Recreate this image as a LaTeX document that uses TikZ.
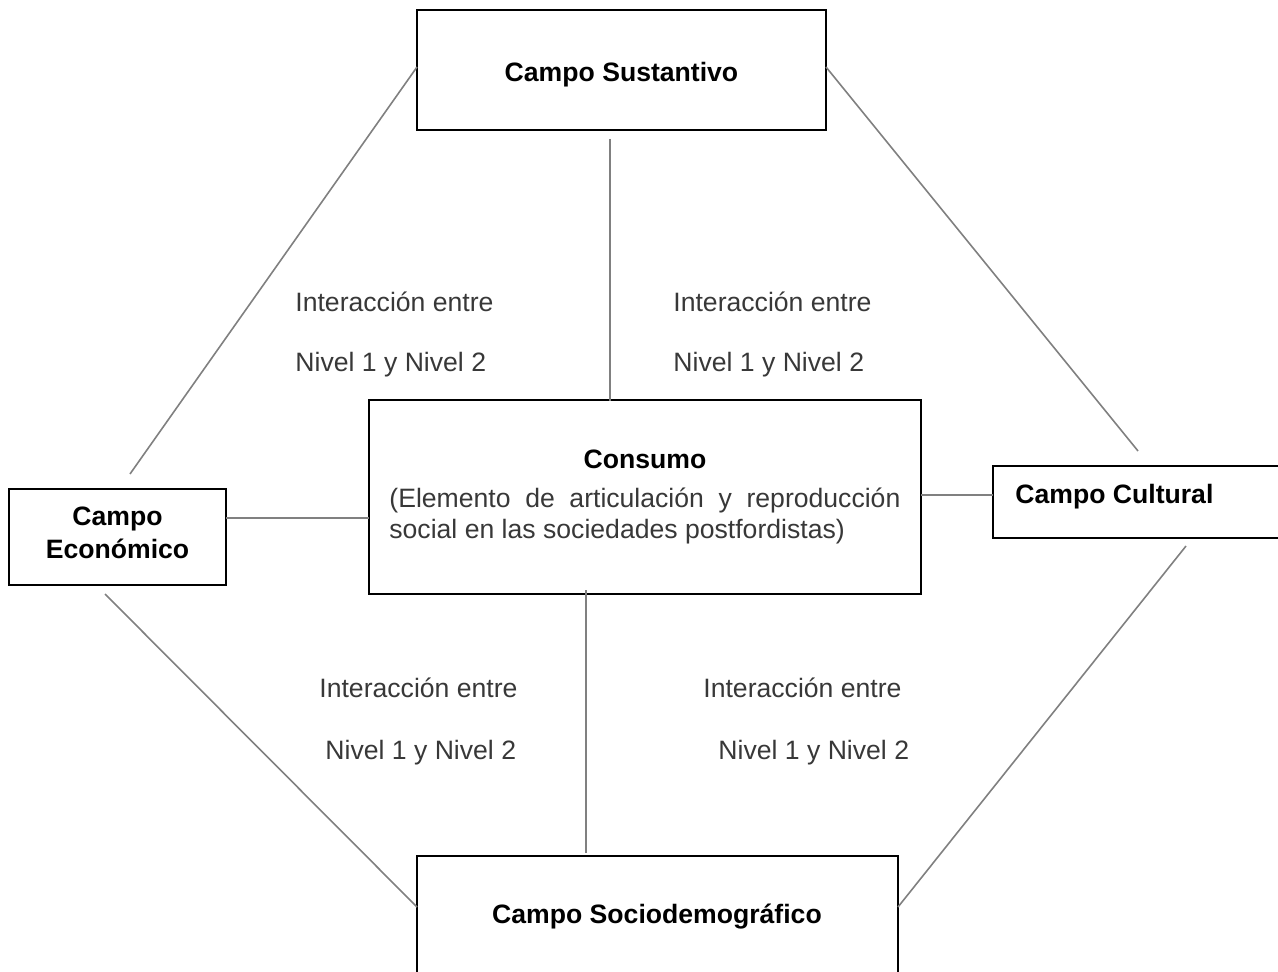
\documentclass[tikz,border=0pt]{standalone}
\usepackage{fontspec}
\setmainfont{Liberation Sans}
\begin{document}
\begin{tikzpicture}[x=0.5pt,y=-0.5pt,
  box/.style={draw=black,line width=0.8pt,inner sep=0pt},
  conn/.style={draw=black!50,line width=0.8pt},
  lbl/.style={anchor=base west,inner sep=0pt,text=black!78,font=\fontsize{13.3pt}{15.5pt}\selectfont},
  ttl/.style={anchor=base,inner sep=0pt,text=black,font=\fontsize{13.3pt}{17pt}\selectfont\bfseries}]
\useasboundingbox (0,0) rectangle (1278,972);
\clip (0,0) rectangle (1278,972);
% boxes
\node[box,minimum width=204.5pt,minimum height=60pt] (sus) at (621.5,70) {};
\node[box,minimum width=276pt,minimum height=97pt] (con) at (645,497) {};
\node[box,minimum width=108.5pt,minimum height=48pt] (eco) at (117.5,537) {};
\node[box,minimum width=153.5pt,minimum height=36pt] (cul) at (1146.5,502) {};
\node[box,minimum width=240.5pt,minimum height=72pt] (soc) at (657.5,928) {};
% titles
\node[ttl] (tsus) at (621.5,82) {Campo Sustantivo};
\node[ttl] (tcon) at (645,468) {Consumo};
\node[ttl] (teco1) at (117.5,525) {Campo};
\node[ttl] (teco2) at (117.5,558) {Económico};
\node[ttl,anchor=base west] (tcul) at (1015,503) {Campo Cultural};
\node[ttl] (tsoc) at (657,923) {Campo Sociodemográfico};
\node[lbl,anchor=base west,text width=255.5pt,align=justify] (tbody) at (389,507)
  {(Elemento de articulación y reproducción\linebreak social en las sociedades postfordistas)};
% interaction labels
\node[lbl] (l1a) at (295,312) {Interacción entre};
\node[lbl] (l1b) at (295,372) {Nivel 1 y Nivel 2};
\node[lbl] (l2a) at (673,312) {Interacción entre};
\node[lbl] (l2b) at (673,372) {Nivel 1 y Nivel 2};
\node[lbl] (l3a) at (319,697) {Interacción entre};
\node[lbl] (l3b) at (325,759) {Nivel 1 y Nivel 2};
\node[lbl] (l4a) at (703,697) {Interacción entre};
\node[lbl] (l4b) at (718,759) {Nivel 1 y Nivel 2};
% connector end points
\coordinate (ecoT) at (130,474);
\coordinate (susL) at (417,67);
\coordinate (susR) at (826,67);
\coordinate (culT) at (1138,451);
\coordinate (ecoB) at (105,594);
\coordinate (socL) at (417,907);
\coordinate (culB) at (1186,546);
\coordinate (socR) at (898,907);
\coordinate (susB) at (610,139);
\coordinate (conT) at (610,401);
\coordinate (conB) at (586,590);
\coordinate (socT) at (586,853);
\coordinate (ecoR) at (226,518);
\coordinate (conL) at (369,518);
\coordinate (conR) at (921,495);
\coordinate (culL) at (993,495);
\draw[conn] (ecoT) -- (susL);
\draw[conn] (susR) -- (culT);
\draw[conn] (ecoB) -- (socL);
\draw[conn] (culB) -- (socR);
\draw[conn] (susB) -- (conT);
\draw[conn] (conB) -- (socT);
\draw[conn] (ecoR) -- (conL);
\draw[conn] (conR) -- (culL);
\end{tikzpicture}
\end{document}
